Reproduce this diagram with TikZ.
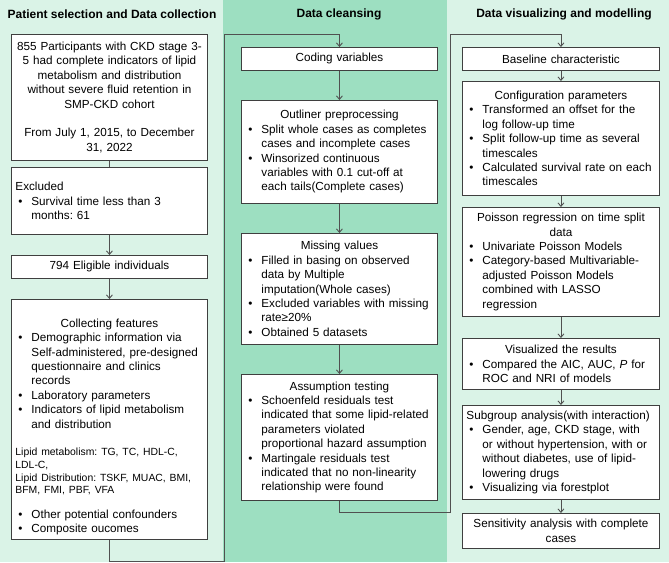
\documentclass[tikz,border=0pt]{standalone}
\usepackage{fontspec}
\setmainfont{Liberation Sans}
\usetikzlibrary{arrows.meta,positioning}
\definecolor{panellight}{HTML}{DAF3E7}
\definecolor{paneldark}{HTML}{9DDFC1}
\definecolor{boxline}{HTML}{3F3F3F}
\definecolor{linkline}{HTML}{505050}

% centred header line and bullet item inside a box
\newcommand{\hd}[1]{{\centering #1\par}}
\newcommand{\bul}[1]{{\leftskip=16pt\noindent\hspace*{-13pt}\makebox[13pt][l]{\textbullet}#1\par}}
\frenchspacing
\hyphenpenalty=10000
\exhyphenpenalty=10000

\begin{document}
\begin{tikzpicture}[x=1pt, y=-1pt,
    every node/.style={font=\fontsize{11.7}{14.4}\selectfont},
    box/.style={draw=boxline, fill=white, line width=0.9pt, anchor=north west,
      inner xsep=4pt, inner ysep=1pt, text width=188pt, align=left},
    boxr/.style={box, text width=189pt},
    title/.style={font=\fontsize{12}{14.4}\selectfont\bfseries},
    link/.style={draw=linkline, line width=0.9pt, -{Straight Barb[length=3.5pt,width=6pt]}},
    plain/.style={draw=linkline, line width=0.9pt}]
  \useasboundingbox (0,0) rectangle (669,562);
  % panels
  \fill[panellight] (0,0) rectangle (223,562);
  \fill[paneldark] (223,0) rectangle (447,562);
  \fill[panellight] (447,0) rectangle (669,562);
  \node[title] (tleft) at (112,14) {Patient selection and Data collection};
  \node[title] (tmid) at (339,14) {Data cleansing};
  \node[title] (tright) at (564,14) {Data visualizing and modelling};

  % patient selection
  \node[box, align=center, minimum height=126pt] (b855) at (11,34) {855 Participants with CKD stage 3-\\5 had complete indicators of lipid\\metabolism and distribution\\without severe fluid retention in\\SMP-CKD cohort\par\vskip14.4pt From July 1, 2015, to December\\31, 2022};
  \node[box, minimum height=67pt] (bexcl) at (11,167) {Excluded\par
    \bul{Survival time less than 3\newline months: 61}};
  \node[box, align=center, minimum height=23pt] (b794) at (11,255) {794 Eligible individuals};
  \node[box, minimum height=240pt] (bcollect) at (11,299) {\vskip9pt
    \hd{Collecting features}
    \bul{Demographic information via\newline Self-administered, pre-designed\newline questionnaire and clinics\newline records}
    \bul{Laboratory parameters}
    \bul{Indicators of lipid metabolism\newline and distribution}
    \vskip15pt
    {\fontsize{10.4}{12.7}\selectfont Lipid metabolism: TG, TC, HDL-C,\newline LDL-C,\newline Lipid Distribution: TSKF, MUAC, BMI,\newline BFM, FMI, PBF, VFA\par}
    \vskip10pt
    \bul{Other potential confounders}
    \bul{Composite oucomes}};

  % data cleansing
  \node[box, align=center, minimum height=23pt] (bcode) at (241,47) {Coding variables};
  \node[box, minimum height=103pt] (bout) at (241,100) {\hd{Outliner preprocessing}
    \bul{Split whole cases as completes\newline cases and incomplete cases}
    \bul{Winsorized continuous\newline variables with 0.1 cut-off at\newline each tails(Complete cases)}};
  \node[box, minimum height=111pt] (bmiss) at (241,233) {\hd{Missing values}
    \bul{Filled in basing on observed\newline data by Multiple\newline imputation(Whole cases)}
    \bul{Excluded variables with missing\newline rate≥20\%}
    \bul{Obtained 5 datasets}};
  \node[box, minimum height=126pt] (bassum) at (241,374) {\hd{Assumption testing}
    \bul{Schoenfeld residuals test\newline indicated that some lipid-related\newline parameters violated\newline proportional hazard assumption}
    \bul{Martingale residuals test\newline indicated that no non-linearity\newline relationship were found}};

  % visualizing and modelling
  \node[boxr, align=center, minimum height=23pt] (bbase) at (462,47) {Baseline characteristic};
  \node[boxr, minimum height=114pt] (bconf) at (462,81) {\hd{Configuration parameters}
    \bul{Transformed an offset for the\newline log follow-up time}
    \bul{Split follow-up time as several\newline timescales}
    \bul{Calculated survival rate on each\newline timescales}};
  \node[boxr, minimum height=109pt] (bpois) at (462,207) {\hd{Poisson regression on time split\par data}
    \bul{Univariate Poisson Models}
    \bul{Category-based Multivariable-\newline adjusted Poisson Models\newline combined with LASSO\newline regression}};
  \node[boxr, minimum height=51pt] (bvis) at (462,338) {\hd{Visualized the results}
    \bul{Compared the AIC, AUC, \textit{P} for\newline ROC and NRI of models}};
  \node[boxr, minimum height=94pt] (bsub) at (462,405) {Subgroup analysis(with interaction)\par
    \bul{Gender, age, CKD stage, with\newline or without hypertension, with or\newline without diabetes, use of lipid-\newline lowering drugs}
    \bul{Visualizing via forestplot}};
  \node[boxr, align=center, minimum height=35pt] (bsens) at (462,513) {Sensitivity analysis with complete\\cases};

  % connectors
  \coordinate (lbend) at (224,561);
  \coordinate (ltop) at (224,34);
  \coordinate (rbend) at (450,512);
  \coordinate (rtop) at (450,34);
  \draw[plain] (b855) -- (bexcl);
  \draw[link] (bexcl) -- (b794);
  \draw[link] (b794) -- (bcollect);
  \draw[link] (bcollect.south) |- (lbend) -- (ltop) -| (bcode.north);
  \draw[link] (bcode) -- (bout);
  \draw[link] (bout) -- (bmiss);
  \draw[link] (bmiss) -- (bassum);
  \draw[link] (bassum.south) |- (rbend) -- (rtop) -| (bbase.north);
  \draw[link] (bbase) -- (bconf);
  \draw[link] (bconf) -- (bpois);
  \draw[link] (bpois) -- (bvis);
  \draw[link] (bvis) -- (bsub);
  \draw[link] (bsub) -- (bsens);
\end{tikzpicture}
\end{document}
